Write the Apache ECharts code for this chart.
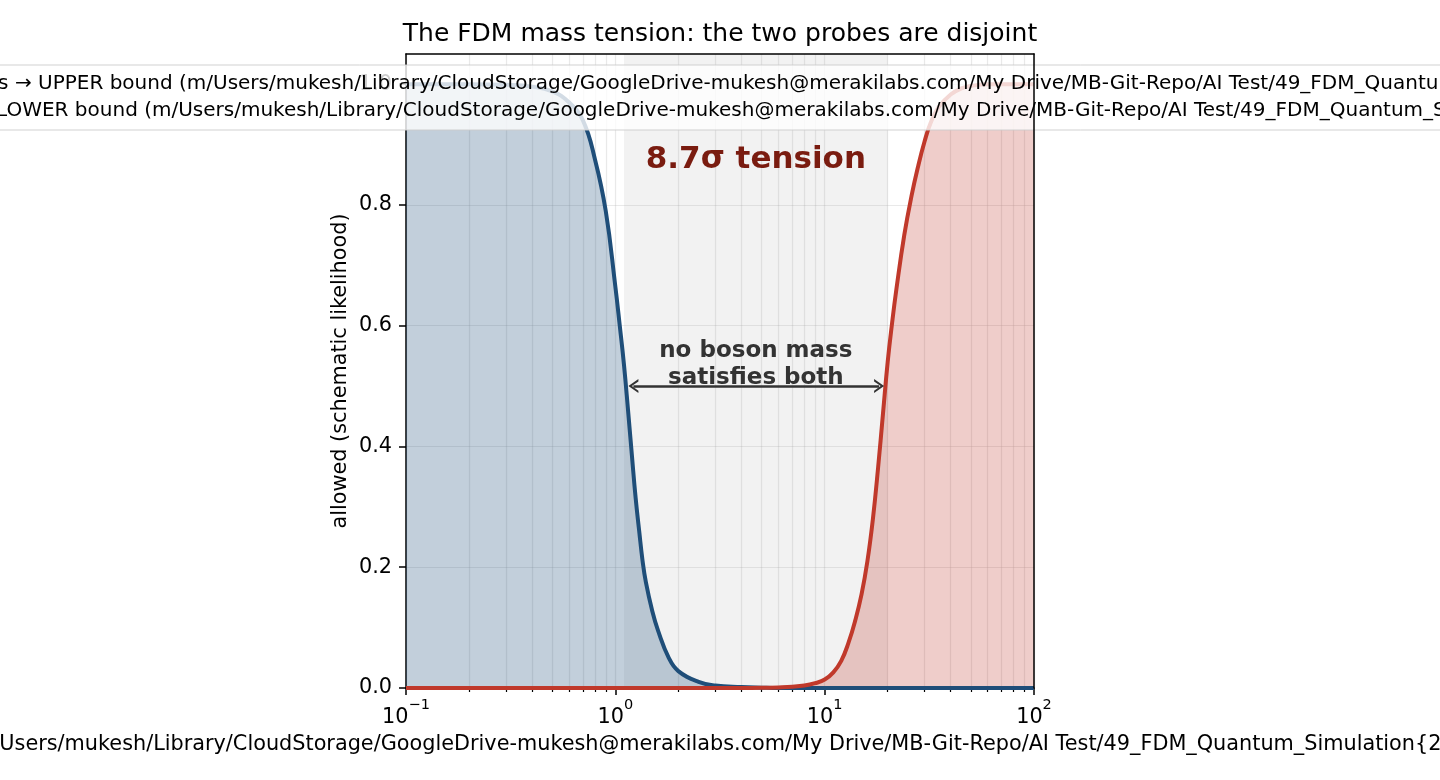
<!DOCTYPE html>
<html>
<head>
<meta charset="utf-8">
<title>FDM mass tension</title>
<script src="https://cdn.jsdelivr.net/npm/echarts@6/dist/echarts.min.js"></script>
<style>
  html, body { margin: 0; padding: 0; background: #fff; }
  #main { width: 1440px; height: 780px; }
</style>
</head>
<body>
<div id="main"></div>
<script>
// boson mass samples (log axis) and the two schematic likelihoods
var massValues = [0.1, 0.15, 0.2, 0.3, 0.4, 0.5, 0.6, 0.7, 0.8, 0.9,
                  1.0, 1.05, 1.1, 1.15, 1.2, 1.25, 1.3, 1.35, 1.4, 1.5,
                  1.6, 1.8, 2.0, 2.5, 3, 4, 5, 6, 7, 8,
                  9, 10, 11, 12, 13, 14, 15, 16, 17, 18,
                  19, 20, 21, 22, 24, 26, 28, 30, 32, 35,
                  40, 45, 50, 60, 70, 100];

var upperBound = [1.0, 1.0, 1.0, 0.999, 0.996, 0.988, 0.97, 0.94, 0.875, 0.79,
                  0.665, 0.6, 0.535, 0.46, 0.385, 0.315, 0.26, 0.21, 0.175, 0.128,
                  0.095, 0.05, 0.028, 0.01, 0.004, 0.0015, 0.0005, 0, 0, 0,
                  0, 0, 0, 0, 0, 0, 0, 0, 0, 0,
                  0, 0, 0, 0, 0, 0, 0, 0, 0, 0,
                  0, 0, 0, 0, 0, 0];

var lowerBound = [0, 0, 0, 0, 0, 0, 0, 0, 0, 0,
                  0, 0, 0, 0, 0, 0, 0, 0, 0, 0,
                  0, 0, 0, 0, 0, 0, 0.0003, 0.001, 0.002, 0.004,
                  0.008, 0.014, 0.026, 0.045, 0.075, 0.112, 0.155, 0.21, 0.28, 0.365,
                  0.455, 0.54, 0.605, 0.66, 0.75, 0.815, 0.865, 0.905, 0.935, 0.962,
                  0.983, 0.993, 0.997, 1.0, 1.0, 1.0];

var gapBand = [1.1, 20];
var majorTicks = [0.1, 1, 10, 100];
var minorTicks = [0.2, 0.3, 0.4, 0.5, 0.6, 0.7, 0.8, 0.9,
                  2, 3, 4, 5, 6, 7, 8, 9,
                  20, 30, 40, 50, 60, 70, 80, 90];
var yTicks = [0, 0.2, 0.4, 0.6, 0.8, 1.0];

var massPath = 'm/Users/mukesh/Library/CloudStorage/GoogleDrive-mukesh@merakilabs.com/My Drive/MB-Git-Repo/AI Test/49_FDM_Quantum_Simulation{22}';
var upperPrefix = 'Dwarf-galaxy cores → ';
var lowerPrefix = 'Lyman-α forest → ';
var upperName = upperPrefix + 'UPPER bound (' + massPath + ' ≲ 1)';
var lowerName = lowerPrefix + 'LOWER bound (' + massPath + ' ≳ 20)';

var blue = '#1f4e79';
var red = '#c0392b';
var FONT = 'DejaVu Sans';

function pairs(ys) {
  return massValues.map(function (m, i) { return [m, ys[i]]; });
}

// legend is wider than the page (as in the original); place it so the
// visible part of the labels lands where it does in the picture
var legendFont = 20;
var ctx = document.createElement('canvas').getContext('2d');
ctx.font = legendFont + 'px "' + FONT + '"';
var wUp = ctx.measureText(upperPrefix).width;
var wLow = ctx.measureText(lowerPrefix).width;
var textStart = ((37 - wUp) + (-1 - wLow)) / 2 - 2;
var legendPad = [8, 10, 8, 10];
var legendItemW = 30;
var legendLeft = textStart - legendPad[3] - legendItemW - 5;

var gridLine = { show: true, lineStyle: { color: 'rgba(176,176,176,0.28)', width: 1.2 } };

var chart = echarts.init(document.getElementById('main'));

chart.setOption({
  animation: false,
  textStyle: { fontFamily: FONT },
  title: {
    text: 'The FDM mass tension: the two probes are disjoint',
    left: 'center',
    top: 22,
    padding: 0,
    textStyle: { fontSize: 25, fontWeight: 'normal', color: '#000', fontFamily: FONT }
  },
  legend: {
    orient: 'vertical',
    left: legendLeft,
    top: 65,
    padding: legendPad,
    itemGap: 5,
    itemWidth: legendItemW,
    itemHeight: 14,
    backgroundColor: 'rgba(255,255,255,0.8)',
    borderColor: 'rgba(204,204,204,0.9)',
    borderWidth: 1,
    borderRadius: 4,
    data: [upperName, lowerName],
    textStyle: { fontSize: legendFont, lineHeight: 22, color: '#000', fontFamily: FONT }
  },
  grid: { left: 406, right: 406, top: 54, bottom: 92, outerBoundsMode: 'none', containLabel: false },
  xAxis: [{
    type: 'log',
    logBase: 10,
    min: 0.1,
    max: 100,
    name: massPath,
    nameLocation: 'middle',
    nameGap: 46,
    nameTextStyle: { fontSize: 20.8, color: '#000', fontFamily: FONT },
    axisLine: { show: true, lineStyle: { color: '#000', width: 1.5 } },
    axisTick: { show: true, length: 7, customValues: majorTicks, lineStyle: { color: '#000', width: 1.5 } },
    axisLabel: {
      customValues: majorTicks,
      margin: 10,
      color: '#000',
      formatter: function (v) {
        var e = Math.round(Math.log10(v));
        return '{b|10}{s|' + (e < 0 ? '\u2212' + (-e) : e) + '}';
      },
      rich: {
        b: { fontSize: 20.8, lineHeight: 30, verticalAlign: 'bottom', color: '#000', fontFamily: FONT },
        s: { fontSize: 14.5, lineHeight: 16, verticalAlign: 'top', color: '#000', fontFamily: FONT }
      }
    },
    splitLine: gridLine
  }, {
    type: 'log',
    logBase: 10,
    min: 0.1,
    max: 100,
    position: 'bottom',
    axisLine: { show: false },
    axisTick: { show: true, length: 4, customValues: minorTicks, lineStyle: { color: '#000', width: 1.2 } },
    axisLabel: { show: false },
    splitLine: gridLine
  }, {
    type: 'log',
    logBase: 10,
    min: 0.1,
    max: 100,
    position: 'top',
    z: 5,
    axisLine: { show: true, lineStyle: { color: '#000', width: 1.5 } },
    axisTick: { show: false },
    axisLabel: { show: false },
    splitLine: { show: false }
  }],
  yAxis: [{
    type: 'value',
    min: 0,
    max: 1.05,
    name: 'allowed (schematic likelihood)',
    nameLocation: 'middle',
    nameGap: 55,
    nameTextStyle: { fontSize: 20.8, color: '#000', fontFamily: FONT },
    axisLine: { show: true, lineStyle: { color: '#000', width: 1.5 } },
    axisTick: { show: true, length: 7, customValues: yTicks, lineStyle: { color: '#000', width: 1.5 } },
    axisLabel: {
      customValues: yTicks,
      margin: 14,
      fontSize: 20.8,
      color: '#000',
      formatter: function (v) { return v.toFixed(1); }
    },
    splitLine: gridLine
  }, {
    type: 'value',
    min: 0,
    max: 1.05,
    position: 'right',
    z: 5,
    axisLine: { show: true, lineStyle: { color: '#000', width: 1.5 } },
    axisTick: { show: false },
    axisLabel: { show: false },
    splitLine: { show: false }
  }],
  series: [{
    name: 'upper fill',
    type: 'line',
    data: pairs(upperBound),
    smooth: 0.45,
    showSymbol: false,
    silent: true,
    z: 1,
    lineStyle: { width: 0 },
    areaStyle: { color: blue, opacity: 0.27 },
    markArea: {
      silent: true,
      itemStyle: { color: 'rgba(128,128,128,0.1)' },
      data: [[{ xAxis: gapBand[0] }, { xAxis: gapBand[1] }]]
    }
  }, {
    name: 'lower fill',
    type: 'line',
    data: pairs(lowerBound),
    smooth: 0.45,
    showSymbol: false,
    silent: true,
    z: 1,
    lineStyle: { width: 0 },
    areaStyle: { color: red, opacity: 0.25 }
  }, {
    name: upperName,
    type: 'line',
    data: pairs(upperBound),
    smooth: 0.45,
    showSymbol: false,
    z: 3,
    itemStyle: { color: blue },
    lineStyle: { color: blue, width: 4 }
  }, {
    name: lowerName,
    type: 'line',
    data: pairs(lowerBound),
    smooth: 0.45,
    showSymbol: false,
    z: 3,
    itemStyle: { color: red },
    lineStyle: { color: red, width: 4 },
    markLine: {
      silent: true,
      symbol: ['path://M0,10 L6,0 L12,10 L10,10 L6,3.4 L2,10 Z', 'path://M0,10 L6,0 L12,10 L10,10 L6,3.4 L2,10 Z'],
      symbolSize: [14, 10],
      lineStyle: { color: '#333', width: 2.5, type: 'solid' },
      label: { show: false },
      data: [[{ coord: [1.22, 0.5] }, { coord: [18.2, 0.5] }]]
    },
    markPoint: {
      silent: true,
      symbol: 'circle',
      symbolSize: 1,
      itemStyle: { color: 'rgba(0,0,0,0)' },
      label: { show: true, position: 'inside', fontFamily: FONT },
      data: [{
        coord: [Math.sqrt(gapBand[0] * gapBand[1]), 0.875],
        label: { formatter: '8.7σ tension', fontSize: 31, fontWeight: 'bold', color: '#7a1c10' }
      }, {
        coord: [Math.sqrt(gapBand[0] * gapBand[1]), 0.535],
        label: { formatter: 'no boson mass\nsatisfies both', fontSize: 23, lineHeight: 27, fontWeight: 'bold', color: '#333', align: 'center' }
      }]
    }
  }]
});
</script>
</body>
</html>
